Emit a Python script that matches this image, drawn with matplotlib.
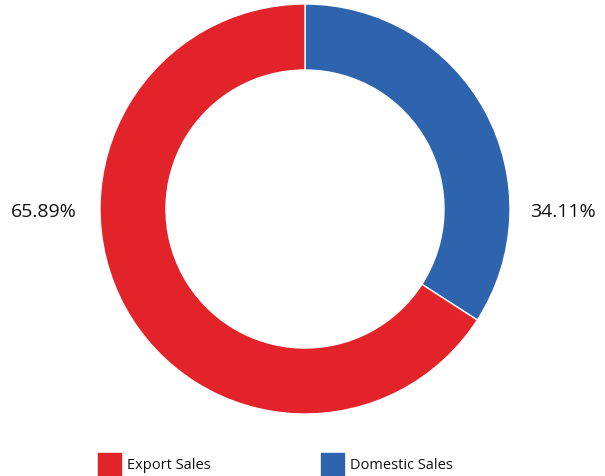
import matplotlib.pyplot as plt
from matplotlib.patches import Rectangle

# ===================================================================
# Data
# ===================================================================
labels = ["Domestic Sales", "Export Sales"]
shares = [34.11, 65.89]
colors = ["#2E63AE", "#E3232A"]

plt.rcParams["font.family"] = ["Open Sans", "DejaVu Sans"]

# ===================================================================
# Figure, axes in pixel units (y up)
# ===================================================================
fig = plt.figure(figsize=(6.05, 4.77), dpi=100)
ax = fig.add_axes([0, 0, 1, 1])

cx, cy = 305, 477 - 210
ax.pie(shares, colors=colors, startangle=90, counterclock=False,
       center=(cx, cy), radius=205, frame=True,
       wedgeprops=dict(width=66, edgecolor="white", linewidth=1))
ax.set_xlim(0, 605)
ax.set_ylim(0, 477)
ax.set_aspect("equal")
ax.axis("off")

# percentage labels beside the ring
ax.text(44, 477 - 212, f"{shares[1]:.2f}%", ha="center", va="center",
        fontsize=14, color="#111111")
ax.text(563, 477 - 212, f"{shares[0]:.2f}%", ha="center", va="center",
        fontsize=14, color="#111111")

# legend (Export first, then Domestic)
legend_x = [98, 321]
for x0, name, col in zip(legend_x, labels[::-1], colors[::-1]):
    ax.add_patch(Rectangle((x0, 0), 23, 23, color=col, clip_on=False))
    ax.text(x0 + 29, 477 - 466, name, ha="left", va="center",
            fontsize=10.5, color="#111111")

fig.savefig("out.png", dpi=100)
